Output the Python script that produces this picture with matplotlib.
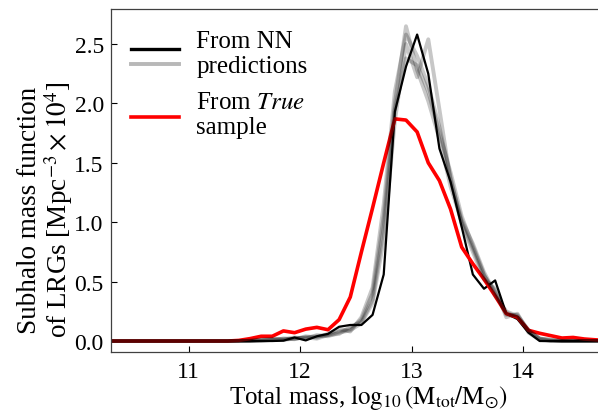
import numpy as np
import matplotlib
matplotlib.use('Agg')
import matplotlib.pyplot as plt
from matplotlib.lines import Line2D
from matplotlib.legend_handler import HandlerBase

plt.rcParams['font.family'] = ['Liberation Serif', 'DejaVu Serif']
plt.rcParams['mathtext.fontset'] = 'stix'

# bin centres of the mass function (log10 M)
mass_bins = np.round(np.arange(10.25, 14.80, 0.1), 2)
n_low = 12  # empty bins 10.25 .. 11.35

# values from 11.45 up to 14.75
true_sample = [0.005, 0.02, 0.04, 0.04, 0.085, 0.07, 0.10, 0.115, 0.095, 0.18,
               0.37, 0.75, 1.12, 1.50, 1.87, 1.86, 1.76, 1.50, 1.35, 1.11,
               0.79, 0.65, 0.52, 0.38, 0.23, 0.20, 0.09, 0.065, 0.045, 0.025,
               0.03, 0.017, 0.01, 0.005]
nn_best = [0, 0, 0, 0, 0.003, 0.03, 0.005, 0.04, 0.06, 0.12,
           0.135, 0.135, 0.22, 0.56, 1.93, 2.31, 2.58, 2.25, 1.62, 1.34,
           0.96, 0.56, 0.44, 0.51, 0.23, 0.185, 0.07, 0, 0, 0,
           0, 0, 0, 0]
nn_runs = [
    [0, 0.005, 0.01, 0.01, 0.02, 0.02, 0.03, 0.04, 0.05, 0.08,
     0.10, 0.18, 0.40, 1.05, 2.00, 2.65, 2.28, 2.02, 1.70, 1.30,
     1.00, 0.78, 0.55, 0.42, 0.22, 0.22, 0.09, 0.02, 0.01, 0,
     0, 0, 0, 0],
    [0, 0, 0.01, 0.02, 0.01, 0.03, 0.02, 0.05, 0.04, 0.07,
     0.09, 0.15, 0.32, 0.85, 1.85, 2.50, 2.22, 2.54, 1.95, 1.35,
     1.02, 0.82, 0.58, 0.40, 0.24, 0.20, 0.08, 0.02, 0.01, 0,
     0, 0, 0, 0],
    [0, 0, 0.005, 0.01, 0.02, 0.015, 0.04, 0.03, 0.06, 0.10,
     0.08, 0.20, 0.45, 1.15, 2.10, 2.58, 2.40, 2.15, 1.80, 1.38,
     0.98, 0.75, 0.52, 0.44, 0.20, 0.23, 0.07, 0.01, 0, 0,
     0, 0, 0, 0],
    [0, 0, 0, 0.01, 0.01, 0.02, 0.03, 0.02, 0.05, 0.06,
     0.12, 0.16, 0.35, 0.95, 1.95, 2.38, 2.32, 2.10, 1.75, 1.42,
     1.05, 0.80, 0.56, 0.38, 0.25, 0.21, 0.09, 0.02, 0, 0,
     0, 0, 0, 0],
]


def pad(vals):
    return np.concatenate([np.zeros(n_low), vals])


class StackedLines(HandlerBase):
    # draws the handles of one entry one above the other
    def create_artists(self, legend, orig_handle, xdescent, ydescent,
                       width, height, fontsize, trans):
        out = []
        n = len(orig_handle)
        gap = 0.6 * fontsize
        for i, h in enumerate(orig_handle):
            y = height / 2 + (n - 1) * gap / 2 - i * gap - 0.1 * fontsize
            ln = Line2D([-xdescent, width - xdescent], [y - ydescent, y - ydescent],
                        color=h.get_color(), lw=h.get_linewidth())
            ln.set_transform(trans)
            out.append(ln)
        return out


fig = plt.figure(figsize=(5.98, 4.14), dpi=100)
ax = fig.add_axes([110.7 / 598, 1 - 353.3 / 414, (601 - 110.7) / 598, (353.3 - 10) / 414])

ax.plot(mass_bins, pad(nn_best), color='black', lw=1.6)
ax.plot(mass_bins, pad(true_sample), color='red', lw=2.6)
for run in nn_runs:
    ax.plot(mass_bins, pad(run), color='black', lw=2.8, alpha=0.22)

ax.set_xlim(10.3, 14.7)
ax.set_ylim(-0.095, 2.795)
ax.set_xticks([11, 12, 13, 14])
ax.set_yticks([0.0, 0.5, 1.0, 1.5, 2.0, 2.5])
ax.set_yticklabels(['0.0', '0.5', '1.0', '1.5', '2.0', '2.5'])
ax.tick_params(direction='in', length=4, width=0.8, labelsize=17, pad=5)
ax.tick_params(axis='x', pad=6)
for s in ax.spines.values():
    s.set_linewidth(0.9)
    s.set_color('0.25')

ax.set_xlabel(r'Total mass, $\log_{10}(\mathrm{M}_{\mathrm{tot}}/\mathrm{M}_{\odot})$',
              fontsize=18)
ax.xaxis.set_label_coords(0.525, -0.087)
ax.set_ylabel('Subhalo mass function\n' + r'of LRGs [Mpc$^{-3}\times10^{4}$]',
              fontsize=19.5, linespacing=1.0)
ax.yaxis.set_label_coords(-0.072, 0.417)

h_black = Line2D([], [], color='black', lw=2.4)
h_grey = Line2D([], [], color='#b8b8b8', lw=2.8)
h_red = Line2D([], [], color='red', lw=2.6)
leg = ax.legend([(h_black, h_grey), (h_red,)], ['From NN\npredictions', 'From $\\it{True}$\nsample'],
                handler_map={tuple: StackedLines()}, loc='upper left', frameon=False,
                fontsize=18, handlelength=1.92, handleheight=2.0, handletextpad=0.68,
                labelspacing=0.55, borderpad=0.45, borderaxespad=0.37)
for t in leg.get_texts():
    t.set_linespacing(1.2)

fig.savefig('out.png', dpi=100)
